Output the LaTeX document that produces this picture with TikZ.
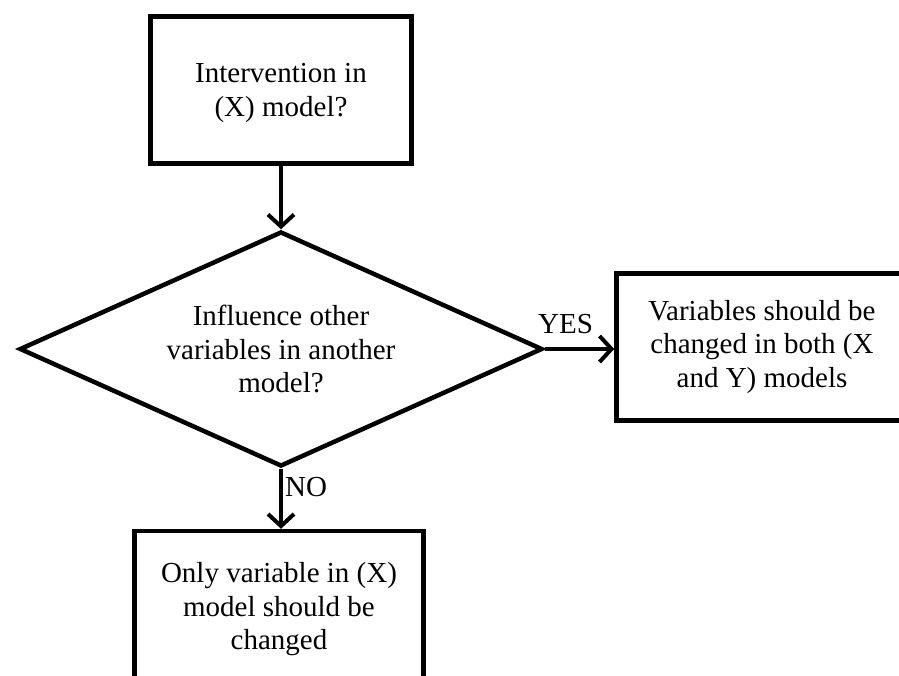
\documentclass[tikz,border=0pt]{standalone}
\usepackage{fontspec}
\setmainfont{Liberation Serif}
\usetikzlibrary{shapes.geometric,arrows.meta}

\tikzset{
	procbox/.style={draw, line width=4.5pt, inner sep=0pt, align=center,
		font=\fontsize{29}{33.5}\selectfont},
	decbox/.style={draw, diamond, aspect=2.2, line width=4.5pt, inner sep=0pt,
		minimum width=523pt, minimum height=235pt, align=center,
		font=\fontsize{29}{33.5}\selectfont},
	flow/.style={line width=4pt, -{Straight Barb[length=12pt,width=26pt,line width=4pt]}},
	lbl/.style={inner sep=0pt, font=\fontsize{29}{33}\selectfont}
}

\begin{document}
\begin{tikzpicture}[x=1pt, y=-1pt]
			\useasboundingbox (0,0) rectangle (899,675);
			\clip (0,0) rectangle (899,675);
			
			\node[procbox, text depth=0pt, minimum width=261pt, minimum height=147pt] (intervention) at (281, 90) {Intervention in\\(X) model?};
			\node[decbox] (influence) at (281, 349) {Influence other\\variables in another\\model?};
			\node[procbox, minimum width=291pt, minimum height=147pt] (both) at (762, 347) {Variables should be\\changed in both (X\\and Y) models};
			\node[procbox, text depth=0pt, minimum width=289pt, minimum height=150pt] (onlyx) at (279, 606) {Only variable in (X)\\model should be\\changed};
			
			\draw[flow] (intervention.south) -- (influence.north);
			\draw[flow] (influence.east) -- (both.west |- influence.east) node[lbl, pos=0.3, above=13pt] (yes) {YES};
			\draw[flow] (influence.south) -- (influence.south |- onlyx.north);
			\node[lbl, anchor=north west] (no) at ([xshift=4pt, yshift=-8pt]influence.south) {NO};
		\end{tikzpicture}
\end{document}
